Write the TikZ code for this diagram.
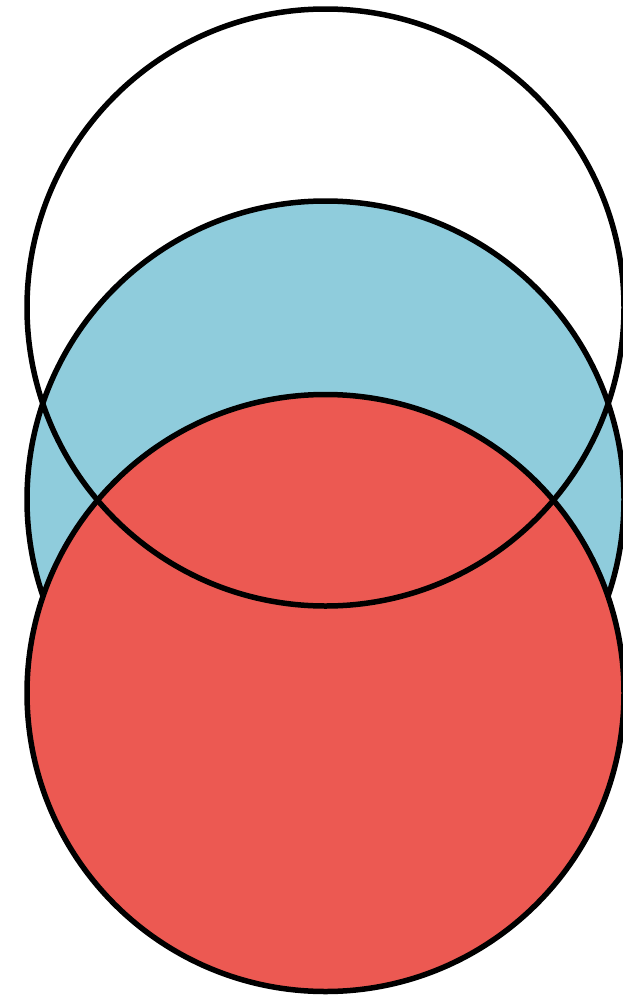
\documentclass[tikz,border=0pt]{standalone}
\definecolor{ringblue}{RGB}{143,204,220}
\definecolor{ringred}{RGB}{236,89,82}
\begin{document}
\begin{tikzpicture}[x=1pt,y=1pt,
  ring/.style={circle, draw=black, line width=5.5pt, inner sep=0pt, minimum size=597pt}]
\useasboundingbox (0,0) rectangle (623,-996);
\node[ring, fill=ringblue] (blue) at (325.5,-499.5) {};
\node[ring, fill=ringred] (red) at (325.5,-693) {};
\node[ring] (top) at (325.5,-307.5) {};
\end{tikzpicture}
\end{document}
